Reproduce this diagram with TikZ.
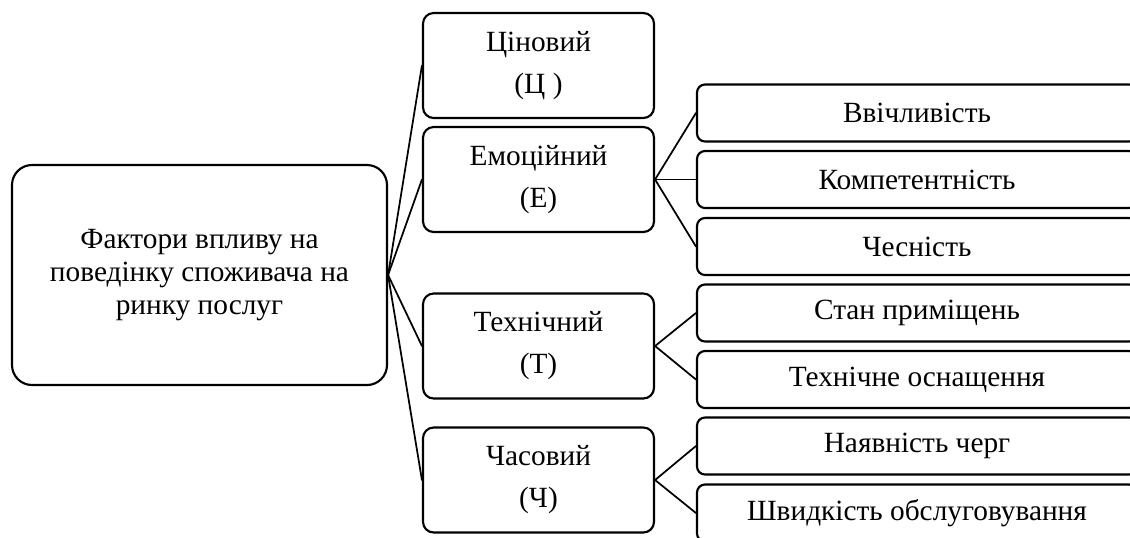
\documentclass[tikz,border=0pt]{standalone}
\usepackage{fontspec}
\setmainfont{Liberation Serif}
\begin{document}
\begin{tikzpicture}[x=0.75pt,y=-0.75pt, line join=round, line cap=round,
 font=\rmfamily\fontsize{22}{24.5}\selectfont,
 golovna/.style={draw,line width=1.6pt,rounded corners=15pt,inner sep=0pt,align=center,minimum width=281.25pt,minimum height=165pt},
 faktor/.style={draw,line width=1.6pt,rounded corners=8pt,inner sep=0pt,align=center,minimum width=173.25pt,minimum height=78.75pt},
 pidfaktor/.style={draw,line width=1.6pt,rounded corners=6pt,inner sep=0pt,minimum width=330pt,minimum height=42.75pt},
 zv/.style={line width=1.3pt}]
 \useasboundingbox (0,0) rectangle (1130,537);
 \clip (0,0) rectangle (1130,537);
 \def\xa{199.5} \def\xb{538.5} \def\xc{917}
 \node[golovna] (fakt) at (\xa,275) {Фактори впливу на\\ поведінку споживача на\\ ринку послуг};
 \node[faktor] (cin) at (\xb,65.5) {Ціновий\\[7pt](Ц )};
 \node[faktor] (emoc) at (\xb,179.5) {Емоційний\\[7pt](Е)};
 \node[faktor] (tekh) at (\xb,346) {Технічний\\[7pt](Т)};
 \node[faktor] (chas) at (\xb,480) {Часовий\\[7pt](Ч)};
 \node[pidfaktor] (vvich) at (\xc,113) {Ввічливість};
 \node[pidfaktor] (komp) at (\xc,179.5) {Компетентність};
 \node[pidfaktor] (chesn) at (\xc,246.5) {Чесність};
 \node[pidfaktor] (stan) at (\xc,313) {Стан приміщень};
 \node[pidfaktor] (osn) at (\xc,379.5) {Технічне оснащення};
 \node[pidfaktor] (cherg) at (\xc,446) {Наявність черг};
 \node[pidfaktor] (shv) at (\xc,513) {Швидкість обслуговування};
 \foreach \a/\b in {fakt/cin,fakt/emoc,fakt/tekh,fakt/chas,emoc/vvich,emoc/komp,emoc/chesn,tekh/stan,tekh/osn,chas/cherg,chas/shv}
 \draw[zv] (\a.east) -- (\b.west);
\end{tikzpicture}
\end{document}
